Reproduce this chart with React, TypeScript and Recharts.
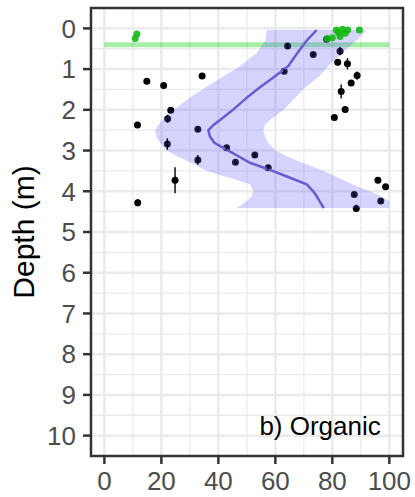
import React from 'react';
import {
  ComposedChart, XAxis, YAxis, CartesianGrid, Scatter, ErrorBar,
  Area, Line, ReferenceLine, ReferenceArea, ReferenceDot,
} from 'recharts';

// observations: organic content (%) by depth (m), with depth error
const samplePct = [
  14.9, 20.8, 34.3, 23.3, 22.2, 11.6, 32.8, 22.1, 32.8, 42.9, 46.0, 52.8, 57.5, 24.8, 11.7,
  64.3, 73.3, 63.1, 78.0, 82.7, 81.9, 85.3, 88.7, 86.6, 83.1, 84.5, 80.7, 96.0, 98.7, 87.7, 97.0, 88.4,
];
const sampleDepth = [
  1.30, 1.40, 1.17, 2.01, 2.22, 2.37, 2.48, 2.84, 3.23, 2.93, 3.29, 3.11, 3.42, 3.73, 4.28,
  0.43, 0.64, 1.05, 0.27, 0.56, 0.83, 0.87, 1.16, 1.34, 1.55, 1.99, 2.19, 3.73, 3.89, 4.08, 4.24, 4.42,
];
const sampleErr = [
  0.04, 0.04, 0.04, 0.06, 0.1, 0.04, 0.05, 0.14, 0.12, 0.05, 0.05, 0.05, 0.05, 0.32, 0.09,
  0.07, 0.05, 0.05, 0.05, 0.1, 0.08, 0.14, 0.1, 0.05, 0.17, 0.07, 0.05, 0.05, 0.05, 0.06, 0.05, 0.09,
];

// surface samples (green)
const surfacePct = [10.8, 11.4, 81.4, 83.6, 85.4, 89.5, 78.2, 80.0, 82.7, 82.1, 84.5];
const surfaceDepth = [0.25, 0.14, 0.04, 0.02, 0.04, 0.04, 0.25, 0.23, 0.20, 0.10, 0.12];

// loess fit and confidence band
const fitDepth = [0.04, 0.3, 0.6, 0.93, 1.17, 1.45, 1.7, 1.99, 2.2, 2.36, 2.5, 2.65, 2.81, 3.0, 3.14, 3.3, 3.5, 3.65, 3.83, 4.0, 4.12, 4.24, 4.41];
const fitValue = [74.5, 71, 67.8, 64.5, 60, 54.5, 50, 45.3, 41.5, 38.5, 36.5, 37, 38.6, 43.5, 47, 51.1, 59, 64.5, 71, 73.3, 74.5, 75.5, 77];
const fitLow = [57, 56.5, 53.5, 47.6, 42, 35.5, 30, 24.5, 21, 19, 17.8, 18.2, 19.5, 22, 25.5, 30.5, 36, 43, 51.1, 52.3, 51.7, 50, 46.5];
const fitHigh = [92, 88.5, 83.5, 78.5, 75.5, 70.5, 67, 63, 59, 56.4, 55.8, 56.3, 57.5, 60, 64, 69.5, 77, 81.5, 87, 93, 97, 100, 100];

const surfaceLineDepth = 0.4;

const xTicks = [0, 20, 40, 60, 80, 100];
const xMinor = [10, 30, 50, 70, 90];
const yTicks = [0, 1, 2, 3, 4, 5, 6, 7, 8, 9, 10];
const yMinor = [0.5, 1.5, 2.5, 3.5, 4.5, 5.5, 6.5, 7.5, 8.5, 9.5];

const samples = samplePct.map((x, i) => ({ x, depth: sampleDepth[i], err: sampleErr[i] }));
const surface = surfacePct.map((x, i) => ({ x, depth: surfaceDepth[i] }));
const fit = fitDepth.map((depth, i) => ({ depth, fit: fitValue[i], band: [fitLow[i], fitHigh[i]] }));

const FONT = '"Liberation Sans", Arial, Helvetica, sans-serif';
const X_DOMAIN: [number, number] = [-4.7, 104.8];
const Y_DOMAIN: [number, number] = [-0.5, 10.5];

const YTitle = ({ viewBox }: any) => {
  const cx = viewBox.x + 23;
  const cy = viewBox.y + viewBox.height / 2;
  return (
    <text x={cx} y={cy} transform={`rotate(-90, ${cx}, ${cy})`} textAnchor="middle"
      dominantBaseline="central" fontSize={30} fill="#000" fontFamily={FONT}>
      Depth (m)
    </text>
  );
};

export default function App() {
  const tickStyle = { fontSize: 26, fill: '#4D4D4D', fontFamily: FONT };
  return (
    <div style={{ position: 'absolute', left: 0, top: 0, background: '#fff' }}>
      <ComposedChart
        width={415}
        height={497}
        layout="vertical"
        margin={{ top: 8, right: 12, bottom: 0, left: 0 }}
      >
        <CartesianGrid verticalValues={xMinor} horizontalValues={yMinor} stroke="#EBEBEB" strokeWidth={1.3} />
        <CartesianGrid verticalValues={xTicks} horizontalValues={yTicks} stroke="#EBEBEB" strokeWidth={2.5} />
        <XAxis
          type="number"
          dataKey="x"
          domain={X_DOMAIN}
          ticks={xTicks}
          allowDataOverflow
          height={41}
          tickSize={8}
          tickMargin={8}
          axisLine={false}
          tickLine={{ stroke: '#333', strokeWidth: 2.5 }}
          tick={tickStyle}
        />
        {/* in vertical layout the depth axis already runs top to bottom */}
        <YAxis
          type="number"
          dataKey="depth"
          domain={Y_DOMAIN}
          ticks={yTicks}
          allowDataOverflow
          width={91}
          tickSize={8}
          tickMargin={7}
          axisLine={false}
          tickLine={{ stroke: '#333', strokeWidth: 2.5 }}
          tick={tickStyle}
          label={<YTitle />}
        />
        <ReferenceLine
          segment={[{ x: 0, y: surfaceLineDepth }, { x: 100, y: surfaceLineDepth }]}
          stroke="#00CD00"
          strokeOpacity={0.35}
          strokeWidth={5}
          zIndex={40}
        />
        <Scatter data={samples} fill="#000" isAnimationActive={false} zIndex={50}
          shape={(p: any) => <circle cx={p.cx} cy={p.cy} r={3.5} fill="#000" />}>
          <ErrorBar dataKey="err" direction="y" width={0} stroke="#000" strokeWidth={1.4} />
        </Scatter>
        <Area
          data={fit}
          dataKey="band"
          type="linear"
          stroke="none"
          fill="#6464FF"
          fillOpacity={0.28}
          isAnimationActive={false}
          zIndex={100}
        />
        <Line
          data={fit}
          dataKey="fit"
          type="linear"
          stroke="#6A5ACD"
          strokeWidth={2.5}
          dot={false}
          isAnimationActive={false}
          zIndex={400}
        />
        <Scatter data={surface} fill="#12B812" isAnimationActive={false} zIndex={600}
          shape={(p: any) => <circle cx={p.cx} cy={p.cy} r={3.5} fill="#12B812" fillOpacity={0.9} />} />
        <ReferenceDot
          x={97}
          y={9.77}
          r={0}
          fill="none"
          stroke="none"
          label={{ value: 'b) Organic', position: 'left', offset: 0, fontSize: 26, fill: '#000', fontFamily: FONT }}
        />
        <ReferenceArea
          x1={X_DOMAIN[0]}
          x2={X_DOMAIN[1]}
          y1={Y_DOMAIN[0]}
          y2={Y_DOMAIN[1]}
          fill="none"
          stroke="#333"
          strokeWidth={2.5}
          zIndex={700}
        />
      </ComposedChart>
    </div>
  );
}
